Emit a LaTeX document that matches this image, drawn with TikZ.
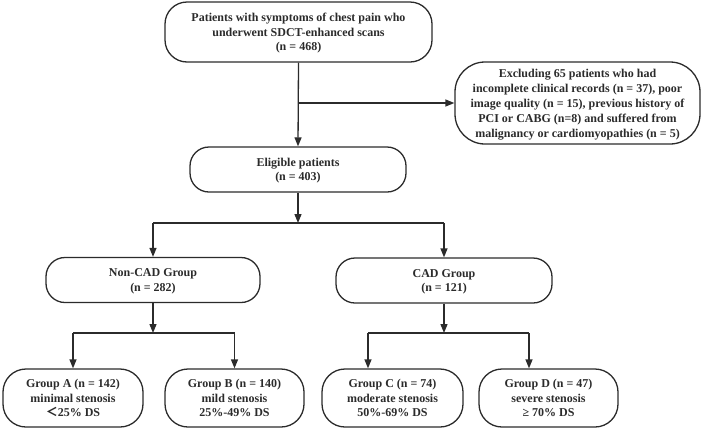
\documentclass[tikz,border=0pt]{standalone}
\usepackage{fontspec}
\setmainfont{Liberation Serif}
\newfontfamily\cjk{Noto Sans CJK SC}
\usetikzlibrary{arrows.meta}
\definecolor{ink}{HTML}{2B2B2B}
\tikzset{
  box/.style={draw=ink, line width=1.3pt, rounded corners=19pt, align=center,
    inner sep=0pt, text depth=0pt, text=ink, font=\fontsize{12}{14.5}\selectfont\bfseries},
  arr/.style={draw=ink, line width=1.3pt, -{Triangle[length=9pt,width=7pt]}},
  ln/.style={draw=ink, line width=1.3pt}
}
\begin{document}
\begin{tikzpicture}[x=1pt,y=-1pt]
\useasboundingbox (0,0) rectangle (708,429);
\node[box, rounded corners=22pt, minimum width=267pt, minimum height=60pt] (top) at (298.5,32)
  {Patients with symptoms of chest pain who\\underwent SDCT-enhanced scans\\(n = 468)};
\node[box, rounded corners=30pt, minimum width=245pt, minimum height=82pt,
  font=\fontsize{12}{15}\selectfont\bfseries] (excl) at (577.5,103)
  {Excluding 65 patients who had\\incomplete clinical records (n = 37), poor\\image quality (n = 15), previous history of\\PCI or CABG (n=8) and suffered from\\malignancy or cardiomyopathies (n = 5)};
\node[box, minimum width=216pt, minimum height=45pt] (elig) at (298,169.5)
  {Eligible patients\\(n = 403)};
\node[box, minimum width=214pt, minimum height=45pt] (noncad) at (153,280)
  {Non-CAD Group\\(n = 282)};
\node[box, minimum width=216pt, minimum height=45pt] (cad) at (444,280.5)
  {CAD Group\\(n = 121)};
\node[box, rounded corners=23pt, minimum width=140pt, minimum height=58pt] (ga) at (73,398)
  {Group A (n = 142)\\minimal stenosis\\{\cjk ＜}25\% DS};
\node[box, rounded corners=23pt, minimum width=139pt, minimum height=58pt] (gb) at (234.5,398)
  {Group B (n = 140)\\mild stenosis\\25\%-49\% DS};
\node[box, rounded corners=23pt, minimum width=141pt, minimum height=58pt] (gc) at (392.5,398)
  {Group C (n = 74)\\moderate stenosis\\50\%-69\% DS};
\node[box, rounded corners=23pt, minimum width=139pt, minimum height=58pt] (gd) at (548.5,398)
  {Group D (n = 47)\\severe stenosis\\≥ 70\% DS};
% connectors
\coordinate (b0) at (298.5,103);
\draw[arr] (top.south) -- (elig.north);
\draw[arr] (b0) -- (excl.west);
\coordinate (s1) at (298,223);
\draw[arr] (elig.south) -- (s1);
\draw[ln] (s1 -| noncad.north) -- (s1 -| cad.north);
\draw[arr] (s1 -| noncad.north) -- (noncad.north);
\draw[arr] (s1 -| cad.north) -- (cad.north);
\coordinate (s2) at (153,333);
\draw[arr] (noncad.south) -- (s2);
\draw[ln] (s2 -| ga.north) -- (s2 -| gb.north);
\draw[arr] (s2 -| ga.north) -- (ga.north);
\draw[arr] (s2 -| gb.north) -- (gb.north);
\coordinate (s3) at (444,333);
\coordinate (cl) at (368,333);
\coordinate (cr) at (529,333);
\draw[arr] (cad.south) -- (s3);
\draw[ln] (cl) -- (cr);
\draw[arr] (cl) -- (cl |- gc.north);
\draw[arr] (cr) -- (cr |- gd.north);
\end{tikzpicture}
\end{document}
